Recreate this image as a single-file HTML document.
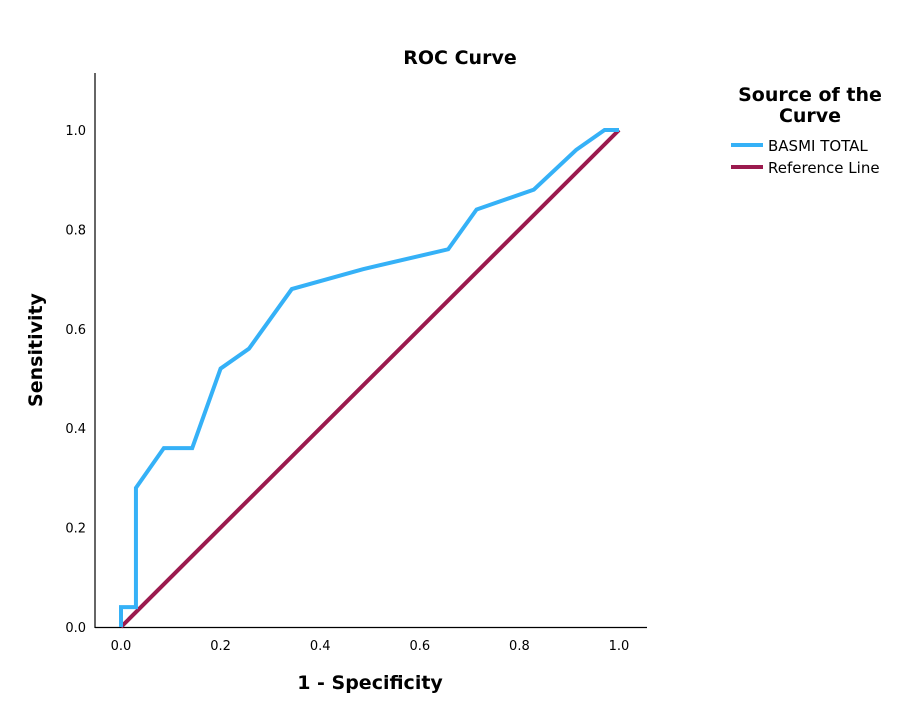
<!DOCTYPE html>
<html><head><meta charset="utf-8"><style>
body{margin:0;background:#fff;}
svg text{font-family:"DejaVu Sans","Liberation Sans",sans-serif;}
</style></head><body>
<svg id="chart" width="904" height="716" viewBox="0 0 904 716">
<text x="460" y="64" text-anchor="middle" font-size="19" font-weight="bold">ROC Curve</text>
<line x1="95" y1="73" x2="95" y2="628" stroke="#000" stroke-width="1.2"/>
<line x1="95" y1="627.5" x2="647" y2="627.5" stroke="#000" stroke-width="1.2"/>
<g id="xticks"></g>
<g id="yticks"></g>
<text x="370" y="689" text-anchor="middle" font-size="19" font-weight="bold">1 - Specificity</text>
<text transform="translate(42,350) rotate(-90)" text-anchor="middle" font-size="19" font-weight="bold">Sensitivity</text>
<g id="series"></g>
<text x="810" y="101" text-anchor="middle" font-size="19" font-weight="bold">Source of the</text>
<text x="810" y="122" text-anchor="middle" font-size="19" font-weight="bold">Curve</text>
<g>
<line x1="731" y1="145" x2="763" y2="145" stroke="#35b1f7" stroke-width="4"/>
<text x="768" y="151" font-size="15">BASMI TOTAL</text></g>
<g>
<line x1="731" y1="167" x2="763" y2="167" stroke="#9b1a4e" stroke-width="4"/>
<text x="768" y="173" font-size="15">Reference Line</text></g>
</svg>
<script>
const fprValues=[0,0,0.03,0.03,0.086,0.143,0.2,0.257,0.343,0.486,0.657,0.714,0.829,0.914,0.971,1];
const tprValues=[0,0.04,0.04,0.28,0.36,0.36,0.52,0.56,0.68,0.72,0.76,0.84,0.88,0.96,1,1];
const refX=[0,1];
const refY=[0,1];
const tickValues=[0,0.2,0.4,0.6,0.8,1.0];
const tickLabels=["0.0","0.2","0.4","0.6","0.8","1.0"];
const NS="http://www.w3.org/2000/svg";
const sx=v=>121+v*498;
const sy=v=>627-v*497;
const xt=document.getElementById('xticks'),yt=document.getElementById('yticks');
tickValues.forEach((v,i)=>{
 let t=document.createElementNS(NS,'text');
 
 
 t.setAttribute('x',sx(v));t.setAttribute('y',650);t.setAttribute('text-anchor','middle');t.setAttribute('font-size','13');
 t.textContent=tickLabels[i];xt.appendChild(t);
 let u=document.createElementNS(NS,'text');
 
 
 u.setAttribute('x',86);u.setAttribute('y',sy(v)+5);u.setAttribute('text-anchor','end');u.setAttribute('font-size','13');
 u.textContent=tickLabels[i];yt.appendChild(u);
});
const g=document.getElementById('series');
function poly(xs,ys,color,name){
 const p=document.createElementNS(NS,'polyline');
 
 
 p.setAttribute('points',xs.map((x,i)=>sx(x)+','+sy(ys[i])).join(' '));
 p.setAttribute('fill','none');p.setAttribute('stroke',color);p.setAttribute('stroke-width','4');p.setAttribute('stroke-linejoin','miter');
 g.appendChild(p);
}
poly(refX,refY,'#9b1a4e','reference-line');
poly(fprValues,tprValues,'#35b1f7','basmi-total-curve');
</script>
</body></html>
